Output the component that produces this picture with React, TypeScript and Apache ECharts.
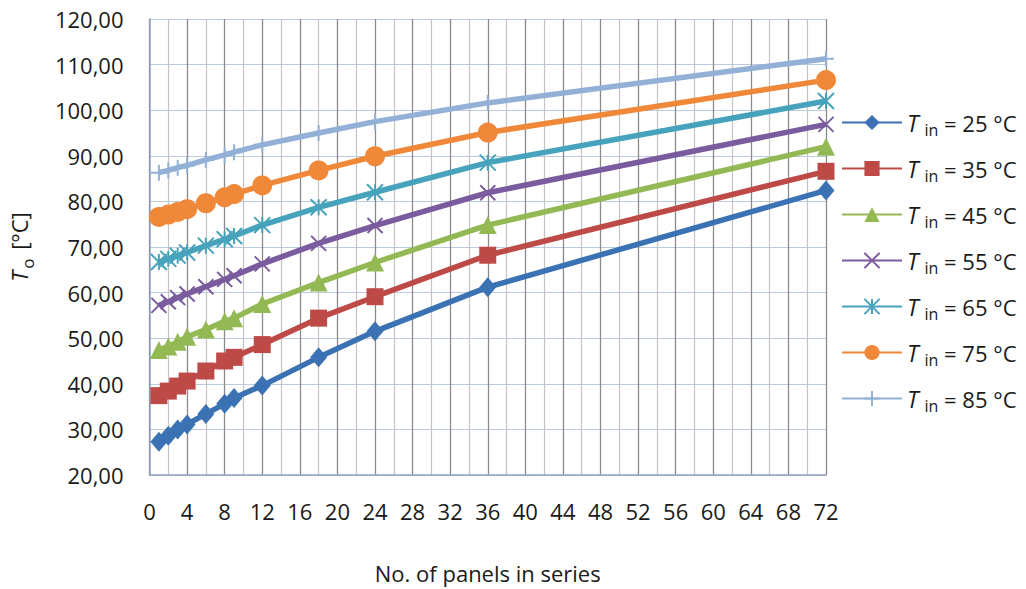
import React, { useEffect, useRef } from "react";
import * as echarts from "echarts";

const panels = [1, 2, 3, 4, 6, 8, 9, 12, 18, 24, 36, 72];
const inletTemps = ["25", "35", "45", "55", "65", "75", "85"];
const t25 = [27.3, 28.6, 30.0, 31.1, 33.4, 35.6, 36.9, 39.6, 45.8, 51.5, 61.2, 82.4];
const t35 = [37.4, 38.4, 39.5, 40.6, 42.8, 45.0, 45.8, 48.6, 54.4, 59.1, 68.2, 86.6];
const t45 = [47.4, 48.2, 49.2, 50.3, 51.9, 53.7, 54.4, 57.5, 62.2, 66.6, 74.8, 92.0];
const t55 = [57.2, 58.0, 58.9, 59.7, 61.3, 62.9, 63.7, 66.3, 70.8, 74.7, 81.9, 96.9];
const t65 = [66.7, 67.4, 68.1, 68.8, 70.3, 71.7, 72.4, 74.8, 78.7, 82.0, 88.5, 102.0];
const t75 = [76.6, 77.1, 77.7, 78.3, 79.6, 80.9, 81.6, 83.5, 86.8, 89.9, 95.1, 106.6];
const t85 = [86.3, 86.8, 87.4, 87.9, 89.1, 90.2, 90.8, 92.4, 95.0, 97.5, 101.6, 111.3];
const seriesValues = [t25, t35, t45, t55, t65, t75, t85];
const colors = ["#3b72b3", "#be4a47", "#93b954", "#7a5c9e", "#47a3bb", "#f0883a", "#93b0d6"];

const FONT = "'Open Sans', 'Noto Sans', sans-serif";
const TXT = "#1a1a1a";

const symbols = [
  { symbol: "diamond", size: [17, 20], stroke: 0 },
  { symbol: "rect", size: 17, stroke: 0 },
  { symbol: "triangle", size: 18, stroke: 0 },
  { symbol: "path://M0,0L10,10M10,0L0,10", size: 15, stroke: 2 },
  { symbol: "path://M0,0L10,10M10,0L0,10M5,0L5,10", size: 16, stroke: 2 },
  { symbol: "circle", size: 20, stroke: 0 },
  { symbol: "path://M5,0L5,10M0,5L10,5", size: 16, stroke: 2 },
];

export default function App() {
  const ref = useRef<HTMLDivElement>(null);
  useEffect(() => {
    if (!ref.current) return;
    const chart = echarts.init(ref.current, null, { renderer: "svg" });
    const series = seriesValues.map((vals, i) => ({
      type: "line",
      name: `Tin = ${inletTemps[i]} °C`,
      data: vals.map((v, j) => [panels[j], v]),
      symbol: symbols[i].symbol,
      symbolSize: symbols[i].size,
      showAllSymbol: true,
      lineStyle: { color: colors[i], width: 5.5 },
      itemStyle: {
        color: colors[i],
        borderColor: colors[i],
        borderWidth: symbols[i].stroke,
      },
      z: 2 + i,
    }));
    chart.setOption({
      animation: false,
      textStyle: { fontFamily: FONT },
      grid: { left: 145, top: 19, right: 200, bottom: 111 },
      xAxis: {
        type: "value",
        min: 0,
        max: 72,
        interval: 4,
        name: "No. of panels in series",
        nameLocation: "middle",
        nameGap: 87,
        nameTextStyle: { fontSize: 22, color: TXT, fontFamily: FONT },
        axisLine: { show: true, lineStyle: { color: "#8ea3c2", width: 1.5 } },
        axisTick: { show: false },
        axisLabel: { fontSize: 22, color: TXT, margin: 25, fontFamily: FONT },
        splitLine: { show: true, lineStyle: { color: "#8a8a8a", width: 1.3 } },
        minorTick: { show: false, splitNumber: 2 },
        minorSplitLine: { show: true, lineStyle: { color: "#c4c4c4", width: 1.2 } },
      },
      yAxis: {
        type: "value",
        min: 20,
        max: 120,
        interval: 10,
        name: "{i|T}{s|o} [°C]",
        nameLocation: "middle",
        nameGap: 114,
        nameTextStyle: {
          fontSize: 22,
          color: TXT,
          fontFamily: FONT,
          rich: {
            i: { fontStyle: "italic", fontSize: 22, fontFamily: FONT, color: TXT },
            s: { fontSize: 17, fontFamily: FONT, color: TXT, padding: [16, 3, 0, 2] },
          },
        },
        axisLine: { show: true, lineStyle: { color: "#8ea3c2", width: 1.5 } },
        axisTick: { show: false },
        axisLabel: {
          fontSize: 22,
          color: TXT,
          margin: 26,
          fontFamily: FONT,
          formatter: (v: number) => v.toFixed(2).replace(".", ","),
        },
        splitLine: { show: true, lineStyle: { color: "#bccbdf", width: 1.2 } },
      },
      legend: {
        orient: "vertical",
        left: 836,
        top: 106,
        itemWidth: 60,
        itemHeight: 19,
        itemGap: 19,
        data: series.map((s) => s.name),
        formatter: (name: string) => {
          const t = name.split("= ")[1];
          return `{i|T}{s|in}{n| = ${t}}`;
        },
        textStyle: {
          fontSize: 22,
          color: TXT,
          fontFamily: FONT,
          rich: {
            i: { fontStyle: "italic", fontSize: 23, fontFamily: FONT, color: TXT },
            s: { fontSize: 16, fontFamily: FONT, color: TXT, padding: [15, 0, 0, 6] },
            n: { fontSize: 22, fontFamily: FONT, color: TXT },
          },
        },
      },
      series,
    });
    return () => chart.dispose();
  }, []);
  return (
    <div
      ref={ref}
      style={{ position: "fixed", left: 0, top: 0, width: 1026, height: 589, background: "#fff" }}
    />
  );
}
